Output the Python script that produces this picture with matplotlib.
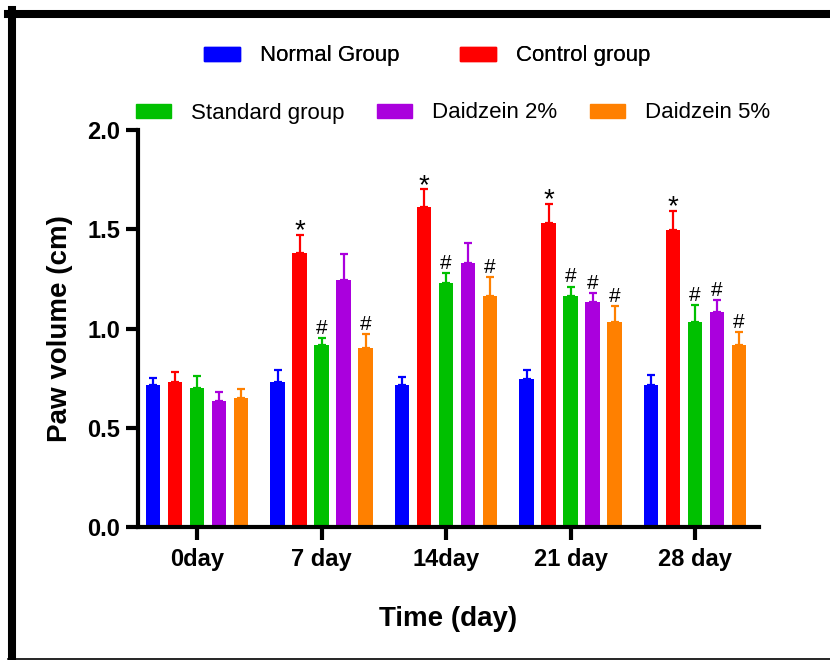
import numpy as np
import matplotlib
matplotlib.use("Agg")
import matplotlib.pyplot as plt
from matplotlib.patches import Patch
from matplotlib.lines import Line2D

plt.rcParams["font.family"] = ["Liberation Sans", "DejaVu Sans"]

# -----------------------------
# DATA
# -----------------------------
days = ["0day", "7 day", "14day", "21 day", "28 day"]
groups = ["Normal Group", "Control group", "Standard group", "Daidzein 2%", "Daidzein 5%"]
colors = ["#0000FF", "#FF0000", "#00C000", "#AA00DD", "#FF8000"]

normal = [0.715, 0.732, 0.714, 0.747, 0.714]
control = [0.732, 1.379, 1.610, 1.530, 1.496]
standard = [0.699, 0.917, 1.231, 1.164, 1.031]
daid2 = [0.635, 1.244, 1.328, 1.132, 1.082]
daid5 = [0.650, 0.900, 1.164, 1.031, 0.915]

normal_err = [0.034, 0.059, 0.043, 0.045, 0.053]
control_err = [0.050, 0.092, 0.091, 0.099, 0.096]
standard_err = [0.060, 0.034, 0.050, 0.047, 0.086]
daid2_err = [0.044, 0.130, 0.104, 0.048, 0.062]
daid5_err = [0.044, 0.071, 0.097, 0.082, 0.067]

# significance marks per group and day
control_marks = ["", "*", "*", "*", "*"]
standard_marks = ["", "#", "#", "#", "#"]
daid2_marks = ["", "", "", "#", "#"]
daid5_marks = ["", "#", "#", "#", "#"]

values = [normal, control, standard, daid2, daid5]
errors = [normal_err, control_err, standard_err, daid2_err, daid5_err]
marks = [[""] * 5, control_marks, standard_marks, daid2_marks, daid5_marks]

# -----------------------------
# FIGURE
# -----------------------------
fig = plt.figure(figsize=(8.3, 6.6), dpi=100)
ax = fig.add_axes([138 / 830, 133 / 660, 621 / 830, 397 / 660])

x = np.arange(len(days))
pitch = 0.1767
width = 0.12

for i, (vals, errs, col, mk) in enumerate(zip(values, errors, colors, marks)):
    pos = x + (i - 2) * pitch
    ax.bar(pos, vals, width=width, color=col, zorder=2)
    ax.errorbar(pos, vals, yerr=[np.zeros(len(errs)), errs], fmt="none",
                ecolor=col, elinewidth=1.6, capsize=3.2, capthick=1.6, zorder=3)
    for p, v, e, m in zip(pos, vals, errs, mk):
        if m == "*":
            ax.annotate(m, (p, v + e), xytext=(0, -2.5), textcoords="offset points",
                        ha="center", va="baseline", fontsize=20)
        elif m == "#":
            ax.annotate(m, (p, v + e), xytext=(0, 3), textcoords="offset points",
                        ha="center", va="baseline", fontsize=15)

ax.set_xlim(-0.474, 4.514)
ax.set_ylim(0, 2.0)
ax.set_yticks([0.0, 0.5, 1.0, 1.5, 2.0])
ax.set_yticklabels(["0.0", "0.5", "1.0", "1.5", "2.0"])
ax.set_xticks(x)
ax.set_xticklabels(days)

for s in ["top", "right"]:
    ax.spines[s].set_visible(False)
for s in ["left", "bottom"]:
    ax.spines[s].set_linewidth(3)
    ax.spines[s].set_capstyle("projecting")

ax.tick_params(axis="both", width=3, length=9, labelsize=17, pad=4)
ax.tick_params(axis="x", pad=6)
for lab in ax.get_xticklabels() + ax.get_yticklabels():
    lab.set_fontweight("bold")

ax.set_xlabel("Time (day)", fontsize=20, fontweight="bold", labelpad=25)
ax.set_ylabel("Paw volume (cm)", fontsize=20, fontweight="bold", labelpad=10)

# -----------------------------
# LEGEND (two rows)
# -----------------------------
handles = [Patch(facecolor=c, edgecolor=c) for c in colors]
leg1 = fig.legend(handles[:2], groups[:2], loc="center", ncol=2,
                  bbox_to_anchor=(427 / 830, 1 - 56 / 660), frameon=False,
                  fontsize=16, handlelength=1.6, handleheight=0.6,
                  handletextpad=0.9, columnspacing=2.75, borderpad=0)
leg2 = fig.legend(handles[2:], groups[2:], loc="center", ncol=3,
                  bbox_to_anchor=(453 / 830, 1 - 113 / 660), frameon=False,
                  fontsize=16, handlelength=1.6, handleheight=0.6,
                  handletextpad=0.9, columnspacing=1.45, borderpad=0)
fig.add_artist(leg1)

# -----------------------------
# FRAME
# -----------------------------
fig.add_artist(Line2D([12 / 830, 12 / 830], [0, 1 - 10 / 660], color="black",
                      linewidth=5.8, transform=fig.transFigure))
fig.add_artist(Line2D([8 / 830, 1], [1 - 14 / 660, 1 - 14 / 660], color="black",
                      linewidth=5.8, transform=fig.transFigure))
fig.add_artist(Line2D([8 / 830, 1], [1.5 / 660, 1.5 / 660], color="black",
                      linewidth=1.2, transform=fig.transFigure))

fig.savefig("out.png", dpi=100)
